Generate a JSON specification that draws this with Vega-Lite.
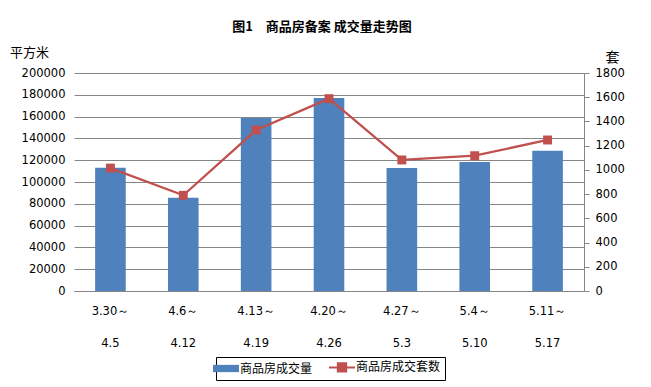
{
  "$schema": "https://vega.github.io/schema/vega-lite/v6.json",
  "width": 510,
  "height": 218,
  "autosize": {"type": "none"},
  "padding": {"left": 74, "top": 73, "right": 67, "bottom": 96},
  "background": "white",
  "config": {
    "view": {"stroke": null},
    "font": "DejaVu Sans"
  },
  "title": {
    "text": "图1　商品房备案 成交量走势图",
    "font": "Noto Sans CJK SC",
    "fontSize": 13,
    "fontWeight": "bold",
    "anchor": "middle",
    "offset": 12,
    "dx": -7,
    "color": "black"
  },
  "data": {
    "values": [
      {"period": "3.30～|4.5", "area": 113000, "units": 1015},
      {"period": "4.6～|4.12", "area": 85600, "units": 790},
      {"period": "4.13～|4.19", "area": 158700, "units": 1329},
      {"period": "4.20～|4.26", "area": 177000, "units": 1588},
      {"period": "4.27～|5.3", "area": 112800, "units": 1082},
      {"period": "5.4～|5.10", "area": 118300, "units": 1117},
      {"period": "5.11～|5.17", "area": 128700, "units": 1247}
    ]
  },
  "encoding": {
    "x": {
      "field": "period",
      "type": "nominal",
      "sort": null,
      "scale": {"paddingInner": 0.58, "paddingOuter": 0.29},
      "axis": {
        "title": null,
        "labelExpr": "split(datum.label, '|')",
        "labelAngle": 0,
        "labelLineHeight": 32,
        "labelFontSize": 11.5,
        "labelColor": "black",
        "labelPadding": 14,
        "ticks": false,
        "domainColor": "#868686",
        "domainWidth": 1,
        "labelFont": "DejaVu Sans"
      }
    }
  },
  "layer": [
    {
      "mark": {"type": "bar", "color": "#4F81BD"},
      "encoding": {
        "y": {
          "field": "area",
          "type": "quantitative",
          "scale": {"domain": [0, 200000], "nice": false},
          "axis": {
            "values": [0, 20000, 40000, 60000, 80000, 100000, 120000, 140000, 160000, 180000, 200000],
            "title": "平方米",
            "titleFont": "Noto Sans CJK SC",
            "titleFontSize": 13,
            "titleFontWeight": "normal",
            "titleColor": "black",
            "titleAngle": 0,
            "titleAlign": "center",
            "titleBaseline": "middle",
            "titleX": -45,
            "titleY": -21,
            "labelFontSize": 11.5,
            "labelColor": "black",
            "labelPadding": 9,
            "ticks": false,
            "domain": false,
            "grid": true,
            "gridColor": "#868686",
            "gridWidth": 1,
            "format": "d"
          }
        },
        "color": {
          "datum": "商品房成交量",
          "type": "nominal",
          "scale": {"domain": ["商品房成交量", "商品房成交套数"], "range": ["#4F81BD", "#C0504D"]},
          "legend": {
            "orient": "none",
            "legendX": 142,
            "legendY": 284,
            "direction": "horizontal",
            "title": null,
            "strokeColor": "black",
            "fillColor": "white",
            "padding": 4,
            "symbolSize": 676,
            "labelFont": "Noto Sans CJK SC",
            "labelFontSize": 12,
            "labelColor": "black",
            "labelOffset": 8,
            "columnPadding": 12,
            "encode": {
              "symbols": {
                "update": {
                  "shape": {"signal": "datum.value === '商品房成交量' ? 'M-1,-0.28H1V0.28H-1Z' : 'M-1,0H1M-0.32,-0.32H0.32V0.32H-0.32Z'"},
                  "fill": {"signal": "datum.value === '商品房成交量' ? '#4F81BD' : '#C0504D'"},
                  "stroke": {"signal": "datum.value === '商品房成交量' ? '#4F81BD' : '#C0504D'"},
                  "strokeWidth": {"signal": "datum.value === '商品房成交量' ? 0 : 2"},
                  "opacity": {"value": 1},
                  "fillOpacity": {"value": 1},
                  "strokeOpacity": {"value": 1}
                }
              }
            }
          }
        }
      }
    },
    {
      "mark": {"type": "line", "color": "#C0504D", "strokeWidth": 2.25, "point": {"shape": "square", "size": 80, "filled": true, "color": "#C0504D", "opacity": 1}},
      "encoding": {
        "y": {
          "field": "units",
          "type": "quantitative",
          "scale": {"domain": [0, 1800], "nice": false},
          "axis": {
            "orient": "right",
            "values": [0, 200, 400, 600, 800, 1000, 1200, 1400, 1600, 1800],
            "title": "套",
            "titleFont": "Noto Sans CJK SC",
            "titleFontSize": 14,
            "titleFontWeight": "normal",
            "titleColor": "black",
            "titleAngle": 0,
            "titleAlign": "center",
            "titleBaseline": "middle",
            "titleX": 28,
            "titleY": -16,
            "labelFontSize": 11.5,
            "labelColor": "black",
            "labelPadding": 6,
            "ticks": true,
            "tickSize": 5,
            "tickColor": "#868686",
            "domain": true,
            "domainColor": "#868686",
            "grid": false,
            "format": "d"
          }
        },
        "color": {"datum": "商品房成交套数", "type": "nominal"}
      }
    }
  ],
  "resolve": {"scale": {"y": "independent"}}
}
